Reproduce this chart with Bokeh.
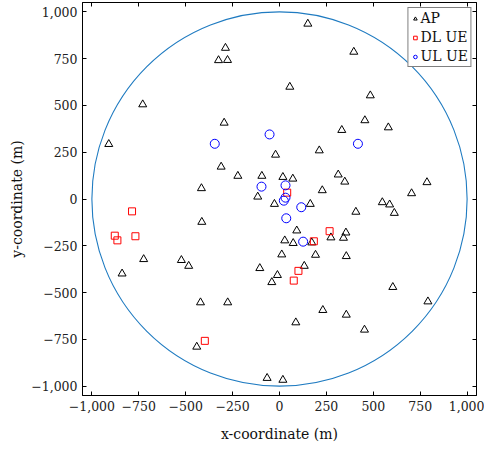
from bokeh.plotting import figure
from bokeh.models import LinearAxis, FixedTicker
from bokeh.embed import file_html
from bokeh.resources import INLINE

# Access points (AP)
ap_x = [151, 396, -288, -325, -277, -729, 55, 484, -910, -295, 455, 332, 580, -21, 212,
        -311, -222, -416, -94, 18, 71, 313, 348, 786, 704, 228, -116, -27, 164, 548,
        587, 612, 407, -414, -724, -523, -484, -839, -421, -276, -441, -105, -41, -11,
        92, 354, 274, 341, 28, 73, 172, 12, 192, 356, 132, 231, 356, 87, 453, -66, 18,
        604, 791]
ap_y = [936, 786, 807, 741, 742, 505, 599, 553, 293, 407, 420, 368, 382, 236, 259,
        172, 123, 57, 123, 117, 108, 130, 92, 89, 30, 46, 12, -27, -27, -18,
        -30, -75, -69, -123, -322, -327, -358, -399, -553, -553, -790, -370, -445, -407,
        -169, -180, -206, -208, -222, -236, -233, -297, -299, -306, -358, -594, -619, -660, -699, -957, -967,
        -471, -548]

# Downlink UEs
dl_x = [-786, -878, -864, -768, -398, 41, 267, 183, 101, 76]
dl_y = [-66, -196, -221, -199, -758, 34, -172, -226, -384, -436]

# Uplink UEs
ul_x = [-345, -53, 418, -96, 32, 23, 32, 116, 36, 126]
ul_y = [295, 345, 295, 66, 73, -9, 7, -44, -103, -228]

cell_radius = 1000
ticks = [-1000, -750, -500, -250, 0, 250, 500, 750, 1000]
tick_labels = ["\u22121,000", "\u2212750", "\u2212500", "\u2212250", "0", "250", "500", "750", "1,000"]

FONT = "DejaVu Serif"

p = figure(frame_width=394, frame_height=393, x_range=(-1050, 1050), y_range=(-1050, 1050),
           output_backend="svg", toolbar_location=None,
           min_border_left=82, min_border_top=2, min_border_right=8, min_border_bottom=4)
p.xgrid.visible = False
p.ygrid.visible = False
p.outline_line_color = "black"

p.ellipse(x=[0], y=[0], width=[2 * cell_radius], height=[2 * cell_radius],
          fill_color=None, line_color="#1f7bc1", line_width=1.1)

p.scatter(ap_x, ap_y, marker="triangle", size=8, fill_color=None, line_color="black",
          line_width=1, legend_label="AP")
p.scatter(dl_x, dl_y, marker="square", size=7, fill_color=None, line_color="red",
          line_width=1, legend_label="DL UE")
p.scatter(ul_x, ul_y, marker="circle", size=9, fill_color=None, line_color="blue",
          line_width=1, legend_label="UL UE")

overrides = {t: l for t, l in zip(ticks, tick_labels)}
for ax in (p.xaxis[0], p.yaxis[0]):
    ax.ticker = FixedTicker(ticks=ticks)
    ax.major_label_overrides = overrides
    ax.major_tick_in = 4
    ax.major_tick_out = 0
    ax.minor_tick_in = 0
    ax.minor_tick_out = 0
    ax.major_label_text_font = FONT
    ax.major_label_text_font_size = "12.5px"
    ax.major_label_text_color = "#222222"
    ax.major_label_standoff = 5
    ax.axis_label_text_font = FONT
    ax.axis_label_text_font_size = "14px"
    ax.axis_label_text_font_style = "normal"
    ax.axis_label_text_color = "#111111"
    ax.axis_line_color = "black"
    ax.major_tick_line_color = "black"

p.xaxis.axis_label = "x-coordinate (m)"
p.yaxis.axis_label = "y-coordinate (m)"
p.xaxis.axis_label_standoff = 12
p.yaxis.axis_label_standoff = 3

blank = {t: "" for t in ticks}
for loc in ("above", "right"):
    ax = LinearAxis(ticker=FixedTicker(ticks=ticks), major_label_overrides=blank,
                    major_label_text_font_size="12px",
                    major_tick_in=4, major_tick_out=0, minor_tick_in=0, minor_tick_out=0,
                    major_label_standoff=0, axis_line_color="black", major_tick_line_color="black")
    p.add_layout(ax, loc)

lg = p.legend[0]
lg.location = "top_right"
lg.label_text_font = FONT
lg.label_text_font_size = "14px"
lg.label_text_color = "#111111"
lg.glyph_width = 9
lg.glyph_height = 15
lg.label_height = 15
lg.label_standoff = 1
lg.spacing = 3
lg.padding = 2
lg.margin = 5
lg.border_line_color = "black"
lg.border_line_width = 1
lg.background_fill_alpha = 1

open("out.html", "w").write(file_html(p, INLINE))
